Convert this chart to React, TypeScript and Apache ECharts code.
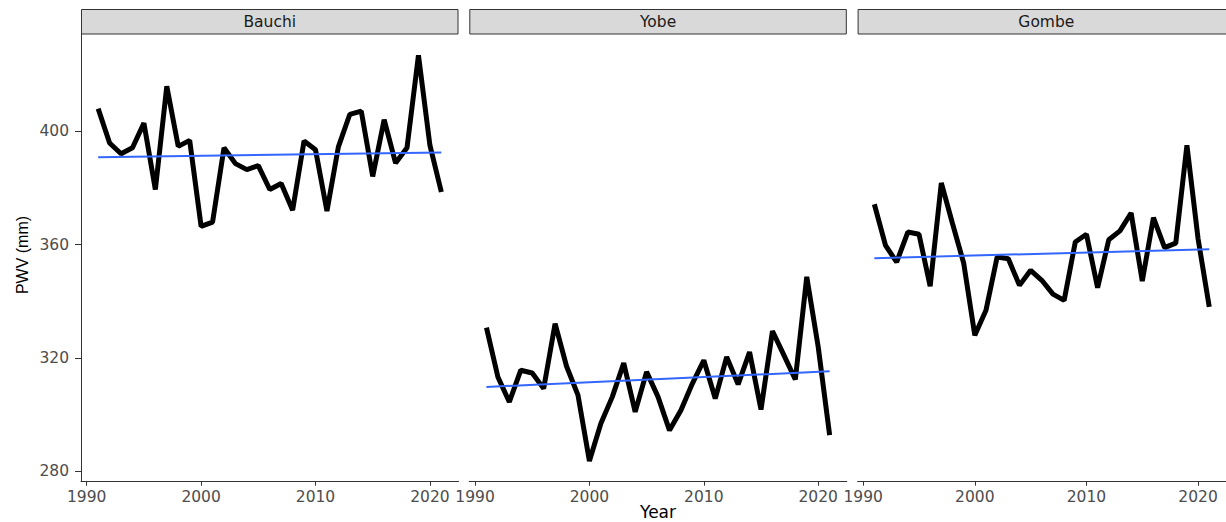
import React, { useEffect, useRef } from "react";
import * as echarts from "echarts";

const years = [1991, 1992, 1993, 1994, 1995, 1996, 1997, 1998, 1999, 2000, 2001, 2002, 2003, 2004, 2005, 2006, 2007, 2008, 2009, 2010, 2011, 2012, 2013, 2014, 2015, 2016, 2017, 2018, 2019, 2020, 2021];

const panels = ["Bauchi", "Yobe", "Gombe"];

const bauchi = [407.9, 395.8, 392.0, 394.1, 402.8, 379.4, 415.8, 394.6, 396.7, 366.4, 367.9, 394.1, 388.5, 386.4, 387.8, 379.4, 381.5, 372.1, 396.5, 393.4, 371.8, 394.4, 405.9, 407.0, 384.0, 404.0, 388.7, 394.1, 426.7, 395.0, 378.5];
const yobe = [330.7, 313.3, 304.5, 315.7, 314.7, 309.2, 332.1, 317.1, 306.9, 283.7, 296.9, 306.3, 318.2, 301.0, 315.1, 306.3, 294.5, 301.6, 311.0, 319.2, 305.7, 320.4, 310.7, 322.1, 301.8, 329.5, 321.0, 312.4, 348.6, 323.9, 292.8];
const gombe = [374.2, 359.7, 353.8, 364.4, 363.6, 345.3, 381.7, 367.4, 353.5, 328.0, 336.8, 355.6, 355.0, 345.6, 350.9, 347.4, 342.5, 340.3, 360.9, 363.6, 344.8, 361.7, 364.8, 371.1, 347.1, 369.5, 358.9, 360.5, 395.0, 362.0, 338.0];

const trendYears = [1991, 2021];
const bauchiTrend = [390.8, 392.4];
const yobeTrend = [309.8, 315.3];
const gombeTrend = [355.2, 358.3];

const xTicks = [1990, 2000, 2010, 2020];
const yTicks = [280, 320, 360, 400];

const seriesValues = [bauchi, yobe, gombe];
const trendValues = [bauchiTrend, yobeTrend, gombeTrend];

const PANEL_LEFT = [81, 469.3, 857.6];
const PANEL_W = 377.5;
const PANEL_TOP = 34;
const PANEL_BOTTOM = 481.7;

export default function App() {
  const ref = useRef<HTMLDivElement>(null);

  useEffect(() => {
    if (!ref.current) return;
    const chart = echarts.init(ref.current, null, { renderer: "svg" });

    const grids = PANEL_LEFT.map((l) => ({
      left: l,
      top: PANEL_TOP,
      width: PANEL_W,
      height: PANEL_BOTTOM - PANEL_TOP,
      containLabel: false,
    }));

    const tickFont = {
      fontFamily: "DejaVu Sans",
      fontSize: 15.5,
      color: "#4D4D4D",
      formatter: (v: number) => String(v),
    };

    const xAxes = PANEL_LEFT.map((_, i) => ({
      type: "value",
      gridIndex: i,
      min: 1989.5,
      max: 2022.5,
      splitLine: { show: false },
      axisLine: { show: true, lineStyle: { color: "#333333", width: 1 } },
      axisTick: { show: true, customValues: xTicks, length: 4, lineStyle: { color: "#333333" } },
      axisLabel: { show: true, customValues: xTicks, margin: 7, ...tickFont },
    }));

    const yAxes = PANEL_LEFT.map((_, i) => ({
      type: "value",
      gridIndex: i,
      min: 276.4,
      max: 434.2,
      show: i === 0,
      splitLine: { show: false },
      axisLine: { show: i === 0, lineStyle: { color: "#333333", width: 1 } },
      axisTick: { show: i === 0, customValues: yTicks, length: 6, lineStyle: { color: "#333333" } },
      axisLabel: { show: i === 0, customValues: yTicks, margin: 12, ...tickFont },
    }));

    const series: any[] = [];
    seriesValues.forEach((vals, i) => {
      series.push({
        type: "line",
        name: panels[i],
        xAxisIndex: i,
        yAxisIndex: i,
        data: years.map((y, k) => [y, vals[k]]),
        showSymbol: false,
        symbol: "none",
        lineStyle: { color: "#000000", width: 5 },
        z: 2,
      });
    });
    trendValues.forEach((vals, i) => {
      series.push({
        type: "line",
        name: panels[i] + " trend",
        xAxisIndex: i,
        yAxisIndex: i,
        data: trendYears.map((y, k) => [y, vals[k]]),
        showSymbol: false,
        symbol: "none",
        lineStyle: { color: "#3366FF", width: 2 },
        z: 3,
      });
    });

    const graphics: any[] = [];
    PANEL_LEFT.forEach((l, i) => {
      graphics.push({
        type: "rect",
        shape: { x: l + 0.5, y: 9.5, width: PANEL_W - 1, height: 24.5 },
        style: { fill: "#D9D9D9", stroke: "#333333", lineWidth: 1 },
        silent: true,
      });
      graphics.push({
        type: "text",
        x: l + PANEL_W / 2,
        y: 22,
        style: {
          text: panels[i],
          fill: "#1A1A1A",
          fontFamily: "DejaVu Sans",
          fontSize: 15.5,
          align: "center",
          verticalAlign: "middle",
        },
        silent: true,
      });
    });
    graphics.push({
      type: "text",
      x: 22,
      y: 255,
      rotation: Math.PI / 2,
      style: {
        text: "PWV (mm)",
        fill: "#000000",
        fontFamily: "Liberation Sans",
        fontSize: 16,
        align: "center",
        verticalAlign: "middle",
      },
      silent: true,
    });
    graphics.push({
      type: "text",
      x: 658,
      y: 512,
      style: {
        text: "Year",
        fill: "#000000",
        fontFamily: "DejaVu Sans",
        fontSize: 17,
        align: "center",
        verticalAlign: "middle",
      },
      silent: true,
    });

    chart.setOption({
      animation: false,
      backgroundColor: "#FFFFFF",
      grid: grids,
      xAxis: xAxes,
      yAxis: yAxes,
      series,
      graphic: graphics,
    });

    return () => {
      chart.dispose();
    };
  }, []);

  return (
    <div
      ref={ref}
      style={{ position: "fixed", left: 0, top: 0, width: 1226, height: 522 }}
    />
  );
}
